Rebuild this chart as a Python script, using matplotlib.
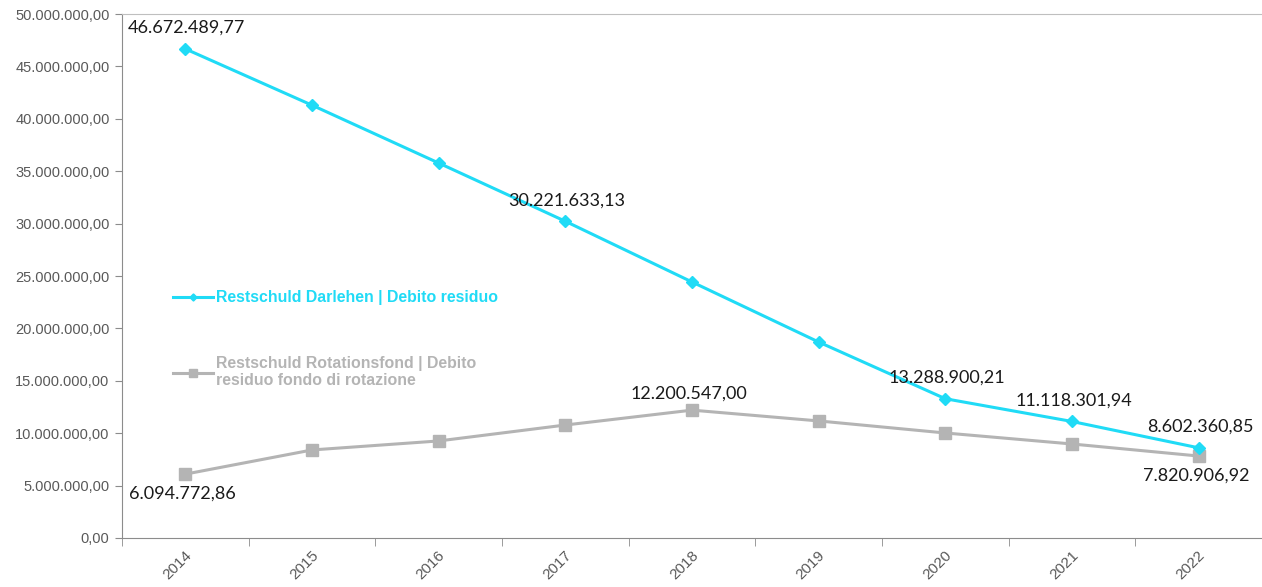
import matplotlib
matplotlib.use("Agg")
import matplotlib.pyplot as plt
from matplotlib.ticker import FuncFormatter, FixedLocator
from matplotlib.transforms import ScaledTranslation

years = ["2014", "2015", "2016", "2017", "2018", "2019", "2020", "2021", "2022"]
darlehen = [46672489.77, 41300000, 35780000, 30221633.13, 24430000,
            18700000, 13288900.21, 11118301.94, 8602360.85]
rotationsfond = [6094772.86, 8400000, 9260000, 10780000, 12200547.00,
                 11170000, 10020000, 8970000, 7820906.92]

# indices of points that carry a value label, and where the label sits
darlehen_labelled = [0, 3, 6, 7, 8]
rotation_labelled = {0: "below", 4: "above", 8: "below"}

label_darlehen = "Restschuld Darlehen | Debito residuo"
label_rotation = "Restschuld Rotationsfond | Debito\nresiduo fondo di rotazione"

CYAN = "#20DBF6"
GREY = "#B4B4B4"
TICK_COL = "#595959"
AXIS_COL = "#8C8C8C"


def de_format(v, decimals=2):
    s = f"{v:,.{decimals}f}"
    return s.replace(",", "X").replace(".", ",").replace("X", ".")


fig = plt.figure(figsize=(12.62, 5.87), dpi=100)
ax = fig.add_axes([0.0967, 0.0835, 0.9033, 0.8926])

x = list(range(len(years)))
ax.plot(x, darlehen, color=CYAN, lw=2.2, marker="D", markersize=6,
        label=label_darlehen, zorder=3)
ax.plot(x, rotationsfond, color=GREY, lw=2.2, marker="s", markersize=8.5,
        label=label_rotation, zorder=2)

ax.set_xlim(-0.5, len(years) - 0.5)
ax.set_ylim(0, 50_000_000)
ax.set_yticks(range(0, 50_000_001, 5_000_000))
ax.yaxis.set_major_formatter(FuncFormatter(lambda v, p: de_format(v)))

ax.set_xticks(x)
ax.set_xticklabels(years)
ax.xaxis.set_minor_locator(FixedLocator([i - 0.5 for i in range(len(years) + 1)]))
ax.tick_params(axis="x", which="major", length=0, pad=11)
ax.tick_params(axis="x", which="minor", length=6, color=AXIS_COL, direction="out")
ax.tick_params(axis="y", length=5, color=AXIS_COL, direction="out", pad=4)

shift = ScaledTranslation(4 / 100, 0, fig.dpi_scale_trans)
for lab in ax.get_xticklabels():
    lab.set_rotation(45)
    lab.set_ha("right")
    lab.set_va("center")
    lab.set_rotation_mode("anchor")
    lab.set_transform(lab.get_transform() + shift)
    lab.set_fontsize(11)
for lab in ax.get_yticklabels():
    lab.set_fontsize(10.5)
for lab in ax.get_xticklabels() + ax.get_yticklabels():
    lab.set_fontfamily("Liberation Sans")
    lab.set_color(TICK_COL)

ax.spines["left"].set_color(AXIS_COL)
ax.spines["bottom"].set_color(AXIS_COL)
ax.spines["top"].set_color("#BFBFBF")
ax.spines["right"].set_visible(False)

lab_font = dict(family="Lato", size=13, color="#1A1A1A")
for i in darlehen_labelled:
    ax.annotate(de_format(darlehen[i]), (x[i], darlehen[i]),
                xytext=(1, 15), textcoords="offset points",
                ha="center", va="center", **lab_font)
for i, side in rotation_labelled.items():
    dy = 12 if side == "above" else -14
    ax.annotate(de_format(rotationsfond[i]), (x[i], rotationsfond[i]),
                xytext=(-2, dy), textcoords="offset points",
                ha="center", va="center", **lab_font)

leg = ax.legend(loc="upper left", bbox_to_anchor=(0.0325, 0.50), frameon=False,
                prop=dict(family="Liberation Sans", weight="bold", size=11.4),
                labelcolor="linecolor", handlelength=2.5, handletextpad=0.2,
                labelspacing=3.2, markerscale=0.6)

fig.savefig("out.png", dpi=100)
